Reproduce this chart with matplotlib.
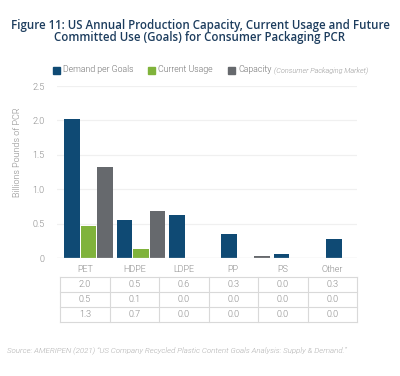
import matplotlib
matplotlib.use("Agg")
import matplotlib.pyplot as plt
from matplotlib.patches import Rectangle
import numpy as np

categories = ["PET", "HDPE", "LDPE", "PP", "PS", "Other"]
demand = [2.02, 0.55, 0.63, 0.35, 0.06, 0.28]
current = [0.47, 0.13, 0.0, 0.0, 0.0, 0.0]
capacity = [1.32, 0.69, 0.0, 0.03, 0.0, 0.0]
table_demand = [2.0, 0.5, 0.6, 0.3, 0.0, 0.3]
table_current = [0.5, 0.1, 0.0, 0.0, 0.0, 0.0]
table_capacity = [1.3, 0.7, 0.0, 0.0, 0.0, 0.0]
yticks = [0, 0.5, 1.0, 1.5, 2.0, 2.5]
ytick_labels = ["0", "0.5", "1.0", "1.5", "2.0", "2.5"]

NAVY = "#0f4a74"
GREEN = "#80b33b"
GRAY = "#66696d"
TXT = "#8a8a8a"

plt.rcParams["font.family"] = ["Roboto", "DejaVu Sans"]
plt.rcParams["font.weight"] = 300

W, H = 400, 376
fig = plt.figure(figsize=(W / 100, H / 100), dpi=100)

def fx(px):
    return px / W

def fy(py):
    return 1 - py / H

# main axes
ax_l, ax_r, ax_t, ax_b = 57, 357, 86, 258.3
ax = fig.add_axes([fx(ax_l), fy(ax_b), (ax_r - ax_l) / W, (ax_b - ax_t) / H])
x = np.arange(len(categories))
step = 0.315
bw = 0.296
ax.bar(x - step, demand, bw, color=NAVY, zorder=3)
ax.bar(x, current, bw, color=GREEN, zorder=3)
ax.bar(x + step, capacity, bw, color=GRAY, zorder=3)
ax.set_xlim(-0.601, -0.601 + 300 / 52.4)
ax.set_ylim(0, 2.5)
ax.set_yticks(yticks)
ax.set_yticklabels(ytick_labels)
ax.tick_params(axis="y", length=0, pad=9, labelsize=6.5, labelcolor=TXT)
ax.set_xticks([])
for s in ax.spines.values():
    s.set_visible(False)
for t in yticks[1:]:
    ax.axhline(t, color="#f0f0f0", lw=0.9, zorder=1)
ax.axhline(0, color="#d6d6d6", lw=0.9, zorder=4)

fig.text(fx(17), fy(152), "Billions Pounds of PCR", rotation=90, ha="center",
         va="center", fontsize=6.5, color=TXT)

# title
tfont = dict(ha="center", va="center", fontsize=8.3, color="#1d3d5e",
             fontweight=600, family=["Open Sans", "DejaVu Sans"])
fig.text(0.5, fy(25), "Figure 11: US Annual Production Capacity, Current Usage and Future", **tfont)
fig.text(0.5, fy(37.5), "Committed Use (Goals) for Consumer Packaging PCR", **tfont)

# legend
ly = 70
leg = [(53, NAVY, "Demand per Goals"), (148, GREEN, "Current Usage"), (228, GRAY, "Capacity")]
for px, col, lab in leg:
    fig.patches.append(Rectangle((fx(px), fy(ly + 3.5)), 7 / W, 7 / H,
                                 transform=fig.transFigure, color=col))
    fig.text(fx(px + 10), fy(ly), lab, ha="left", va="center", fontsize=6.3, color="#707070")
fig.text(fx(274), fy(ly + 0.5), "(Consumer Packaging Market)", ha="left", va="center",
         fontsize=5.2, color="#9a9a9a", style="italic")

# table
tl, tr = 60, 357
tax = fig.add_axes([fx(tl), fy(322), (tr - tl) / W, (322 - 262) / H])
tax.set_xlim(0, len(categories))
tax.set_ylim(0, 4)
tax.axis("off")
rows = [table_demand, table_current, table_capacity]
line_col = "#d9d9d9"
for i in range(len(categories) + 1):
    tax.plot([i, i], [0, 3], color=line_col, lw=0.8, clip_on=False)
for j in range(4):
    tax.plot([0, len(categories)], [j, j], color=line_col, lw=0.8, clip_on=False)
for i, c in enumerate(categories):
    tax.text(i + 0.5, 3.5, c, ha="center", va="center", fontsize=6.5, color=TXT)
for r, vals in enumerate(rows):
    for i, v in enumerate(vals):
        tax.text(i + 0.5, 2.5 - r, f"{v:.1f}", ha="center", va="center",
                 fontsize=6.5, color=TXT)

fig.text(fx(7), fy(350), "Source: AMERIPEN (2021) \u201cUS Company Recycled Plastic Content Goals Analysis: Supply & Demand.\u201d",
         ha="left", va="center", fontsize=5.7, color="#b0b0b0", style="italic")

fig.savefig("out.png", dpi=100)
